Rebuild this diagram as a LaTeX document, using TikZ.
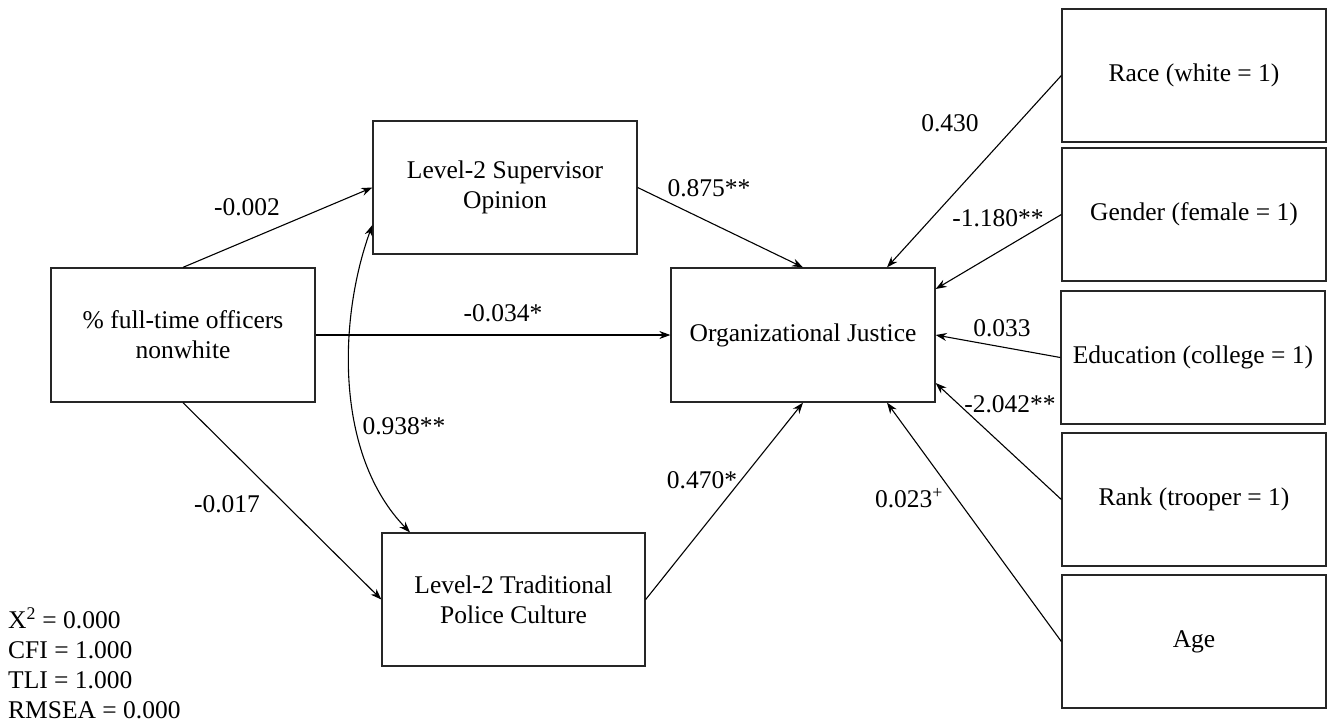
\documentclass[tikz,border=0pt]{standalone}
\usepackage{fontspec}
\setmainfont{Liberation Serif}
\usetikzlibrary{arrows.meta}
\begin{document}
\begin{tikzpicture}[x=1pt,y=-1pt,
  every node/.style={font=\fontsize{25.5}{30}\selectfont},
  box/.style={draw=black!85,line width=1.3pt,rectangle,align=center,inner sep=0pt,minimum width=264pt,minimum height=134pt},
  conn/.style={line width=1.1pt,-{Stealth[length=11pt,width=8pt]}},
  lab/.style={inner sep=0pt}]
\useasboundingbox (0,0) rectangle (1333,724);
\fill[white] (0,0) rectangle (1333,724);
% nodes
\node[box] (pct) at (183,335) {\% full-time officers\\nonwhite};
\node[box,minimum height=133pt] (sup) at (505,187.5) {Level-2 Supervisor\\Opinion};
\node[box,minimum width=263pt,minimum height=133pt] (cul) at (513.5,599.5) {Level-2 Traditional\\Police Culture};
\node[box] (oj) at (803,335) {Organizational Justice};
\node[box,minimum height=133pt] (race) at (1194,75.5) {Race (white = 1)};
\node[box,minimum height=133pt] (gen) at (1194,214.5) {Gender (female = 1)};
\node[box,minimum height=133pt] (edu) at (1193,357.5) {Education (college = 1)};
\node[box,minimum height=133pt] (rank) at (1194,499.5) {Rank (trooper = 1)};
\node[box,minimum height=133pt] (age) at (1194,641.5) {Age};
% connectors
\draw[conn] (pct.north) -- (sup.west);
\draw[conn] (pct.south) -- (cul.west);
\draw[conn] (pct.east) -- (oj.west);
\draw[conn] (sup.east) -- (oj.north);
\draw[conn] (cul.east) -- (oj.south);
\draw[conn] (race.west) -- (887,0 |- oj.north);
\draw[conn] (gen.west) -- (oj.east |- 0,289);
\draw[conn] (edu.west) -- (oj.east);
\draw[conn] (rank.west) -- (oj.east |- 0,383);
\draw[conn] (age.west) -- (887,0 |- oj.south);
\draw[line width=1.1pt,{Stealth[length=11pt,width=8pt]}-{Stealth[length=11pt,width=8pt]}]
  (sup.west |- 0,225) .. controls (338,320) and (335,455) .. (410,0 |- cul.north);
% labels
\node[lab] (l1) at (247,207) {-0.002};
\node[lab] (l2) at (709,188) {0.875**};
\node[lab] (l3) at (503,313) {-0.034*};
\node[lab] (l4) at (404,426) {0.938**};
\node[lab] (l5) at (227,504) {-0.017};
\node[lab] (l6) at (702,480) {0.470*};
\node[lab] (l7) at (950,123) {0.430};
\node[lab] (l8) at (998,218) {-1.180**};
\node[lab] (l9) at (1002,328) {0.033};
\node[lab] (l10) at (1010,404) {-2.042**};
\node[lab] (l11) at (909,498) {0.023\textsuperscript{+}};
\node[lab,anchor=north west,align=left] (fit) at (8,607) {X\textsuperscript{2} = 0.000\\CFI = 1.000\\TLI = 1.000\\RMSEA = 0.000};
\end{tikzpicture}
\end{document}
